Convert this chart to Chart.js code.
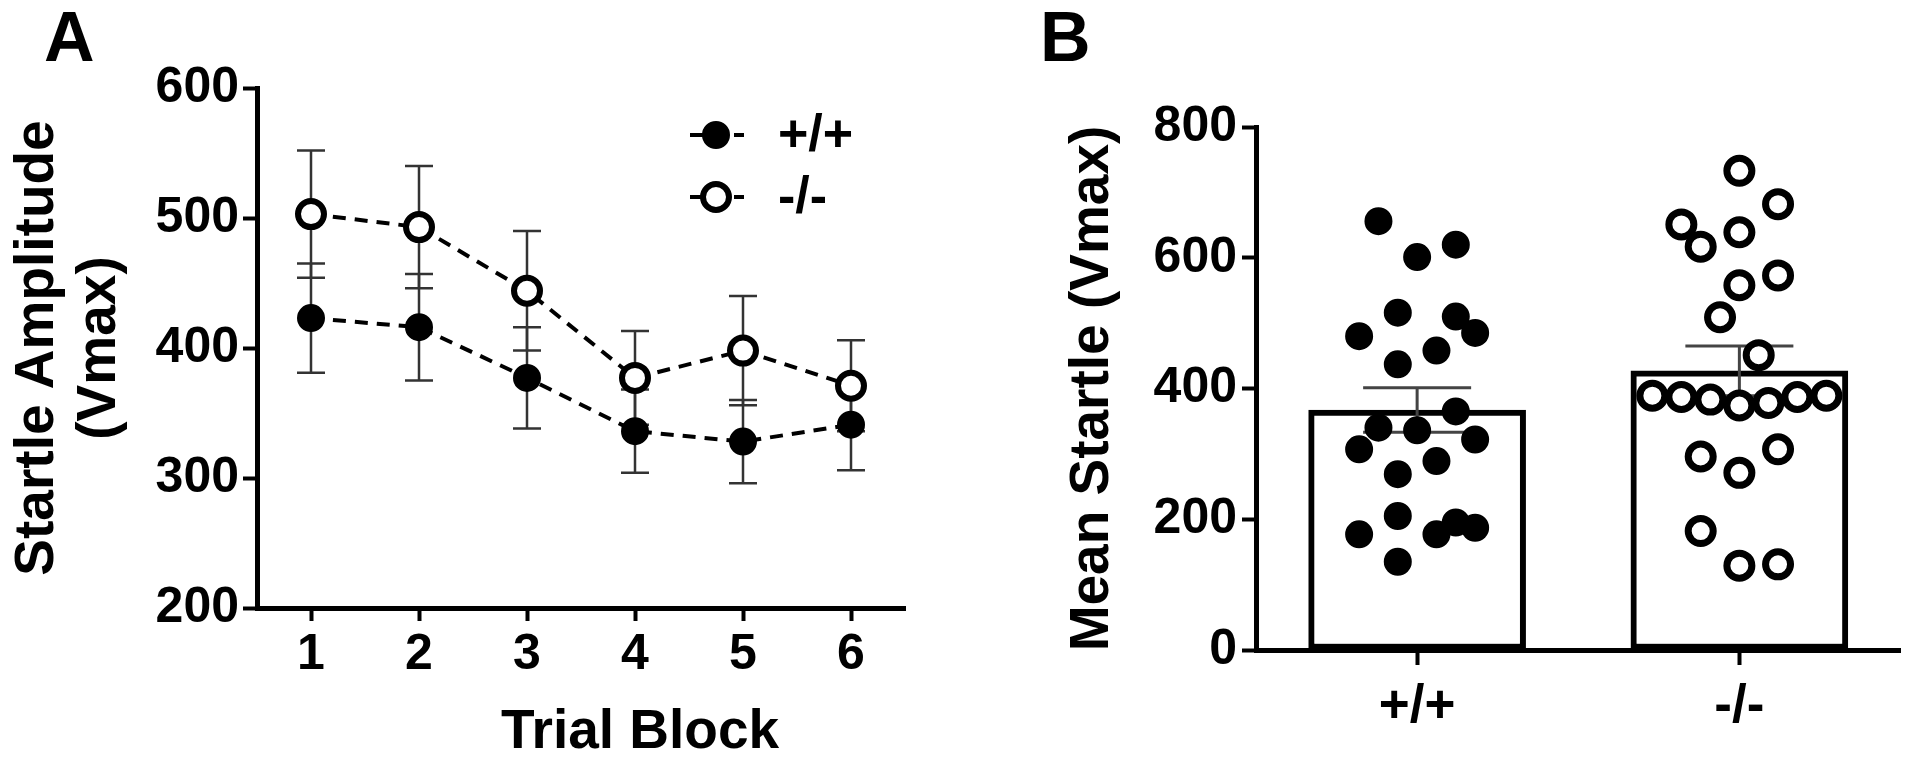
<!DOCTYPE html>
<html>
<head>
<meta charset="utf-8"/>
<title>Startle amplitude</title>
<script src="https://cdn.jsdelivr.net/npm/chart.js"></script>
<style>
  body { margin:0; background:#fff; width:1920px; height:759px; position:relative; overflow:hidden;
         font-family:"Liberation Sans", Arial, sans-serif; }
  .panel { position:absolute; top:0; width:960px; height:759px; }
  .letter { position:absolute; font-weight:bold; font-size:70px; line-height:1; color:#000; }
</style>
</head>
<body>
<div class="panel" style="left:0"><canvas id="chartA" width="960" height="759"></canvas></div>
<div class="panel" style="left:960px"><canvas id="chartB" width="960" height="759"></canvas></div>
<div class="letter" style="left:44px; top:2px">A</div>
<div class="letter" style="left:1040px; top:2px">B</div>
<script>
// Panel A - startle amplitude by trial block (mean +/- SEM)
const blocks = [1, 2, 3, 4, 5, 6];
const wtMean = [423, 416, 377, 336, 328, 341];
const wtSem  = [42, 41, 39, 32, 32, 35];
const koMean = [503, 493, 444, 377, 398, 371];
const koSem  = [49, 47, 46, 36, 42, 35];
const seriesNames = ['+/+', '-/-'];

// Panel B - mean startle per animal
const groups  = ['+/+', '-/-'];
const barMean = [367, 427];
const barSem  = [34, 38];
const wtPoints = [656, 601, 620, 516, 510, 480, 485, 458, 437, 365, 340,
                  336, 322, 307, 289, 269, 205, 177, 177, 195, 187, 135];
const wtX = [-0.12, 0, 0.12, -0.06, 0.12, -0.18, 0.18, 0.06, -0.06, 0.12, -0.12,
             0, 0.18, -0.18, 0.06, -0.06, -0.06, -0.18, 0.06, 0.12, 0.18, -0.06];
const koPoints = [733, 682, 651, 639, 617, 573, 558, 509, 451,
                  389, 387, 383, 374, 378, 387, 389,
                  296, 307, 271, 182, 129, 131];
const koX = [1, 1.12, 0.82, 1, 0.88, 1.12, 1, 0.94, 1.06,
             0.73, 0.82, 0.91, 1, 1.09, 1.18, 1.27,
             0.88, 1.12, 1, 0.88, 1, 1.12];

Chart.defaults.font.family = '"Liberation Sans", Arial, sans-serif';
Chart.defaults.font.weight = 'bold';
Chart.defaults.color = '#000';

const axisGrid = { drawOnChartArea: false, drawTicks: true, tickLength: 14, tickWidth: 4, tickColor: '#000' };
const axisBorder = { display: true, width: 5, color: '#000' };

// error bars for the line chart, drawn under the markers
const errorBarsA = {
  id: 'errorBarsA',
  beforeDatasetsDraw(chart) {
    const {ctx, scales: {x, y}} = chart;
    ctx.save();
    ctx.strokeStyle = '#333';
    ctx.lineWidth = 2.5;
    [[wtMean, wtSem], [koMean, koSem]].forEach(([m, s]) => {
      blocks.forEach((b, i) => {
        const px = x.getPixelForValue(b);
        const top = y.getPixelForValue(m[i] + s[i]);
        const bot = y.getPixelForValue(m[i] - s[i]);
        ctx.beginPath();
        ctx.moveTo(px, top); ctx.lineTo(px, bot);
        ctx.moveTo(px - 14, top); ctx.lineTo(px + 14, top);
        ctx.moveTo(px - 14, bot); ctx.lineTo(px + 14, bot);
        ctx.stroke();
      });
    });
    ctx.restore();
  }
};

// legend inside the plot + shifted x title
const extrasA = {
  id: 'extrasA',
  afterDraw(chart) {
    const {ctx, chartArea} = chart;
    ctx.save();
    chart.data.datasets.forEach((ds, i) => {
      const cx = chartArea.right - 189;
      const cy = chartArea.top + 47 + i * 62;
      ctx.strokeStyle = '#000';
      ctx.lineWidth = 4;
      ctx.setLineDash([13, 9]);
      ctx.beginPath();
      ctx.moveTo(cx - 26, cy); ctx.lineTo(cx + 28, cy);
      ctx.stroke();
      ctx.setLineDash([]);
      ctx.beginPath();
      ctx.arc(cx, cy, ds.pointRadius, 0, Math.PI * 2);
      ctx.fillStyle = ds.pointBackgroundColor;
      ctx.fill();
      ctx.lineWidth = ds.pointBorderWidth;
      ctx.stroke();
      ctx.fillStyle = '#000';
      ctx.font = 'bold 52px "Liberation Sans", Arial, sans-serif';
      ctx.textAlign = 'left';
      ctx.textBaseline = 'middle';
      ctx.fillText(ds.label, cx + 62, cy + 2);
    });
    ctx.font = 'bold 55px "Liberation Sans", Arial, sans-serif';
    ctx.textAlign = 'center';
    ctx.textBaseline = 'alphabetic';
    ctx.fillText('Trial Block', (chartArea.left + chartArea.right) / 2 + 59, 748);
    ctx.restore();
  }
};

new Chart(document.getElementById('chartA'), {
  type: 'line',
  data: {
    datasets: [
      {
        label: seriesNames[0],
        data: blocks.map((b, i) => ({x: b, y: wtMean[i]})),
        borderColor: '#000', borderWidth: 4, borderDash: [13, 9],
        pointRadius: 13, pointBorderWidth: 2,
        pointBackgroundColor: '#000', pointBorderColor: '#000'
      },
      {
        label: seriesNames[1],
        data: blocks.map((b, i) => ({x: b, y: koMean[i]})),
        borderColor: '#000', borderWidth: 4, borderDash: [13, 9],
        pointRadius: 13, pointBorderWidth: 6,
        pointBackgroundColor: '#fff', pointBorderColor: '#000'
      }
    ]
  },
  options: {
    responsive: false,
    animation: false,
    devicePixelRatio: 1,
    layout: { padding: { left: 0, top: 88, right: 55, bottom: 0 } },
    plugins: { legend: { display: false }, tooltip: { enabled: false } },
    scales: {
      x: {
        type: 'linear', min: 0.5, max: 6.5,
        afterBuildTicks: s => { s.ticks = blocks.map(v => ({value: v})); },
        afterFit: s => { s.height = 151; },
        grid: Object.assign({}, axisGrid, { tickLength: 13 }),
        border: axisBorder,
        ticks: { font: { size: 50 }, padding: 4 }
      },
      y: {
        min: 200, max: 600,
        ticks: { stepSize: 100, font: { size: 50 }, padding: 4 },
        afterFit: s => { s.width = 257; },
        grid: axisGrid,
        border: axisBorder,
        title: {
          display: true, text: ['Startle Amplitude', '(Vmax)'],
          font: { size: 55, lineHeight: 1.12 }, padding: { top: 7 }
        }
      }
    }
  },
  plugins: [errorBarsA, extrasA]
});

// SEM bars on top of the columns, under the dots
const errorBarsB = {
  id: 'errorBarsB',
  afterDatasetDraw(chart, args) {
    if (args.index !== 0) return;
    const {ctx, scales: {x, y}} = chart;
    ctx.save();
    ctx.strokeStyle = '#444';
    ctx.lineWidth = 3;
    groups.forEach((g, i) => {
      const px = x.getPixelForValue(i);
      const top = y.getPixelForValue(barMean[i] + barSem[i]);
      const bot = y.getPixelForValue(barMean[i] - barSem[i]);
      ctx.beginPath();
      ctx.moveTo(px, top); ctx.lineTo(px, bot);
      ctx.moveTo(px - 54, top); ctx.lineTo(px + 54, top);
      ctx.moveTo(px - 54, bot); ctx.lineTo(px + 54, bot);
      ctx.stroke();
    });
    ctx.restore();
  }
};

new Chart(document.getElementById('chartB'), {
  type: 'bar',
  data: {
    datasets: [
      {
        type: 'bar',
        data: groups.map((g, i) => ({x: i, y: barMean[i]})),
        backgroundColor: '#fff', borderColor: '#000', borderWidth: 6,
        borderSkipped: false, barThickness: 217, order: 2
      },
      {
        type: 'scatter',
        data: wtX.map((v, i) => ({x: v, y: wtPoints[i]})),
        pointRadius: 13, pointBorderWidth: 2,
        pointBackgroundColor: '#000', pointBorderColor: '#000', order: 1
      },
      {
        type: 'scatter',
        data: koX.map((v, i) => ({x: v, y: koPoints[i]})),
        pointRadius: 12.5, pointBorderWidth: 7,
        pointBackgroundColor: '#fff', pointBorderColor: '#000', order: 0
      }
    ]
  },
  options: {
    responsive: false,
    animation: false,
    devicePixelRatio: 1,
    layout: { padding: { left: 0, top: 127, right: 13, bottom: 0 } },
    plugins: { legend: { display: false }, tooltip: { enabled: false } },
    scales: {
      x: {
        type: 'linear', min: -0.5, max: 1.5, offset: false,
        afterBuildTicks: s => { s.ticks = groups.map((g, i) => ({value: i})); },
        afterFit: s => { s.height = 109; },
        grid: Object.assign({}, axisGrid, { tickLength: 15, offset: false }),
        border: axisBorder,
        ticks: { font: { size: 53 }, padding: 11, callback: (v, i) => groups[i] }
      },
      y: {
        min: 0, max: 800,
        ticks: { stepSize: 200, font: { size: 50 }, padding: 5 },
        afterFit: s => { s.width = 296; },
        grid: axisGrid,
        border: axisBorder,
        title: {
          display: true, text: 'Mean Startle (Vmax)',
          font: { size: 55, lineHeight: 1.12 }, padding: { top: 102 }
        }
      }
    }
  },
  plugins: [errorBarsB]
});
</script>
</body>
</html>
